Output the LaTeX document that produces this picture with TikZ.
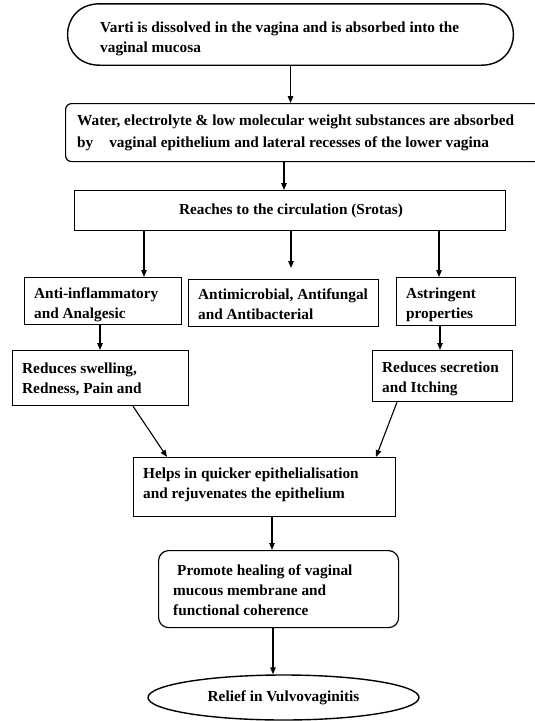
\documentclass[tikz,border=0pt]{standalone}
\usepackage{fontspec}
\setmainfont{Liberation Serif}
\usetikzlibrary{arrows.meta,shapes.geometric}
\begin{document}
\begin{tikzpicture}[x=1pt,y=-1pt,
 box/.style={draw, line width=1.2pt, rectangle, inner sep=0pt, anchor=north west},
 txt/.style={font=\fontsize{15.3}{20}\selectfont\bfseries, align=left, anchor=west, inner sep=0pt},
 arr/.style={-{Triangle[length=7pt,width=5.5pt]}, line width=1.1pt}]
\clip (0,0) rectangle (535,721);
% top rounded shape
\node[minimum width=445pt, minimum height=61pt, inner sep=0pt] (top) at (290.5,34.5) {};
\draw[line width=1.4pt] ([xshift=32pt]top.north west) -- ([xshift=-32pt]top.north east)
  .. controls ([xshift=11pt]top.north east) and ([xshift=11pt]top.south east) .. ([xshift=-32pt]top.south east)
  -- ([xshift=32pt]top.south west)
  .. controls ([xshift=-11pt]top.south west) and ([xshift=-11pt]top.north west) .. cycle;
\node[txt] (topt) at (100,39) {Varti is dissolved in the vagina and is absorbed into the\\vaginal mucosa};
% box2
\node[box, rounded corners=6pt, minimum width=475pt, minimum height=58pt] (b2) at (65,103) {};
\node[txt, font=\fontsize{15.3}{22}\selectfont\bfseries] (b2t) at (77,133) {Water, electrolyte \& low molecular weight substances are absorbed\\by\hspace{16pt}vaginal epithelium and lateral recesses of the lower vagina};
% box3
\node[box, minimum width=431pt, minimum height=40pt] (b3) at (74,190) {};
\node[txt, anchor=center] (b3t) at (291,211) {Reaches to the circulation (Srotas)};
% row
\node[box, minimum width=157pt, minimum height=47pt] (anti) at (24,277) {};
\node[txt] (antit) at (34,305) {Anti-inflammatory\\and Analgesic};
\node[box, minimum width=190pt, minimum height=47pt] (mic) at (188,279) {};
\node[txt] (mict) at (198,304.5) {Antimicrobial, Antifungal\\and Antibacterial};
\node[box, minimum width=119pt, minimum height=48pt] (ast) at (396,277) {};
\node[txt] (astt) at (406,305) {Astringent\\properties};
% second row
\node[box, minimum width=176pt, minimum height=55pt] (rsw) at (12,350) {};
\node[txt] (rswt) at (22,379.5) {Reduces swelling,\\Redness, Pain and};
\node[box, minimum width=140pt, minimum height=51pt] (rse) at (372,350) {};
\node[txt] (rset) at (382,379) {Reduces secretion\\and Itching};
% helps
\node[box, minimum width=262pt, minimum height=59pt] (hlp) at (133,457) {};
\node[txt] (hlpt) at (143,485) {Helps in quicker epithelialisation\\and rejuvenates the epithelium};
% promote
\node[box, rounded corners=10pt, minimum width=240pt, minimum height=77pt] (pro) at (158,550) {};
\node[txt] (prot) at (173,590) {\hspace*{4pt}Promote healing of vaginal\\mucous membrane and\\functional coherence};
% relief
\node[draw, ellipse, line width=1.4pt, minimum width=271pt, minimum height=45pt, inner sep=0pt,
  font=\fontsize{15.3}{20}\selectfont\bfseries] (rel) at (283.5,697.5) {Relief in Vulvovaginitis};
% arrows
\draw[arr] (top.south) -- (top.south |- b2.north);
\draw[arr] (b2.south -| 284,0) -- (b3.north -| 284,0);
\draw[arr] (b3.south -| 144,0) -- (anti.north -| 144,0);
\draw[arr, shorten >=11pt] (b3.south -| 291,0) -- (mic.north -| 291,0);
\draw[arr] (b3.south -| 439,0) -- (ast.north -| 439,0);
\draw[arr] (anti.south -| 100,0) -- (rsw.north -| 100,0);
\draw[arr] (ast.south -| 440,0) -- (rse.north -| 440,0);
\draw[arr] (rsw.south -| 133,0) -- (hlp.north -| 167,0);
\draw[arr] (rse.south -| 397,0) -- (hlp.north -| 376,0);
\draw[arr] (hlp.south -| 272,0) -- (pro.north -| 272,0);
\draw[arr] (pro.south -| 273,0) -- (rel.north -| 273,0);
\end{tikzpicture}
\end{document}
